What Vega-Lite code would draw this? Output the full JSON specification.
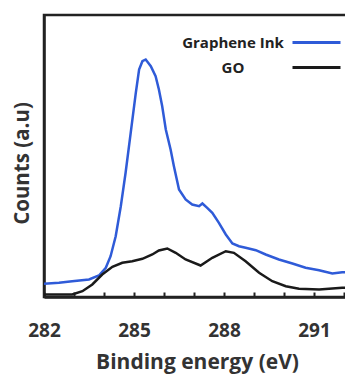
{
  "$schema": "https://vega.github.io/schema/vega-lite/v6.json",
  "autosize": "none",
  "padding": {"left": 44, "top": 15, "right": 0, "bottom": 79},
  "width": 306,
  "height": 282,
  "background": "white",
  "config": {
    "view": {"stroke": "#222", "strokeWidth": 2.5},
    "font": "Open Sans",
    "axis": {"grid": false}
  },
  "data": {
    "values": [
      {"E": 282.0, "v": 13.2, "s": "Graphene Ink"},
      {"E": 282.5, "v": 14.2, "s": "Graphene Ink"},
      {"E": 282.94, "v": 15.8, "s": "Graphene Ink"},
      {"E": 283.5, "v": 17.5, "s": "Graphene Ink"},
      {"E": 283.83, "v": 21.5, "s": "Graphene Ink"},
      {"E": 284.06, "v": 29.2, "s": "Graphene Ink"},
      {"E": 284.22, "v": 40.8, "s": "Graphene Ink"},
      {"E": 284.39, "v": 60.8, "s": "Graphene Ink"},
      {"E": 284.56, "v": 90.8, "s": "Graphene Ink"},
      {"E": 284.72, "v": 124.2, "s": "Graphene Ink"},
      {"E": 284.89, "v": 164.2, "s": "Graphene Ink"},
      {"E": 285.06, "v": 204.2, "s": "Graphene Ink"},
      {"E": 285.17, "v": 227.5, "s": "Graphene Ink"},
      {"E": 285.28, "v": 235.8, "s": "Graphene Ink"},
      {"E": 285.39, "v": 237.5, "s": "Graphene Ink"},
      {"E": 285.56, "v": 230.8, "s": "Graphene Ink"},
      {"E": 285.72, "v": 220.8, "s": "Graphene Ink"},
      {"E": 285.83, "v": 207.5, "s": "Graphene Ink"},
      {"E": 285.94, "v": 190.8, "s": "Graphene Ink"},
      {"E": 286.06, "v": 167.5, "s": "Graphene Ink"},
      {"E": 286.22, "v": 147.5, "s": "Graphene Ink"},
      {"E": 286.33, "v": 130.8, "s": "Graphene Ink"},
      {"E": 286.5, "v": 107.5, "s": "Graphene Ink"},
      {"E": 286.72, "v": 97.5, "s": "Graphene Ink"},
      {"E": 286.94, "v": 92.5, "s": "Graphene Ink"},
      {"E": 287.17, "v": 90.8, "s": "Graphene Ink"},
      {"E": 287.28, "v": 93.5, "s": "Graphene Ink"},
      {"E": 287.44, "v": 89.2, "s": "Graphene Ink"},
      {"E": 287.61, "v": 84.2, "s": "Graphene Ink"},
      {"E": 287.83, "v": 74.2, "s": "Graphene Ink"},
      {"E": 288.06, "v": 62.5, "s": "Graphene Ink"},
      {"E": 288.28, "v": 53.5, "s": "Graphene Ink"},
      {"E": 288.5, "v": 50.8, "s": "Graphene Ink"},
      {"E": 288.72, "v": 49.2, "s": "Graphene Ink"},
      {"E": 289.06, "v": 46.8, "s": "Graphene Ink"},
      {"E": 289.39, "v": 42.5, "s": "Graphene Ink"},
      {"E": 289.83, "v": 37.5, "s": "Graphene Ink"},
      {"E": 290.28, "v": 33.5, "s": "Graphene Ink"},
      {"E": 290.72, "v": 29.2, "s": "Graphene Ink"},
      {"E": 291.17, "v": 26.8, "s": "Graphene Ink"},
      {"E": 291.61, "v": 23.5, "s": "Graphene Ink"},
      {"E": 291.94, "v": 24.8, "s": "Graphene Ink"},
      {"E": 292.2, "v": 25.0, "s": "Graphene Ink"},
      {"E": 282.0, "v": 2.5, "s": "GO"},
      {"E": 282.94, "v": 2.5, "s": "GO"},
      {"E": 283.28, "v": 5.8, "s": "GO"},
      {"E": 283.61, "v": 12.5, "s": "GO"},
      {"E": 283.94, "v": 22.5, "s": "GO"},
      {"E": 284.28, "v": 30.2, "s": "GO"},
      {"E": 284.61, "v": 34.2, "s": "GO"},
      {"E": 284.94, "v": 35.8, "s": "GO"},
      {"E": 285.28, "v": 38.2, "s": "GO"},
      {"E": 285.61, "v": 42.5, "s": "GO"},
      {"E": 285.83, "v": 46.5, "s": "GO"},
      {"E": 286.11, "v": 48.5, "s": "GO"},
      {"E": 286.39, "v": 44.2, "s": "GO"},
      {"E": 286.72, "v": 37.5, "s": "GO"},
      {"E": 287.22, "v": 31.5, "s": "GO"},
      {"E": 287.61, "v": 39.2, "s": "GO"},
      {"E": 288.06, "v": 45.8, "s": "GO"},
      {"E": 288.33, "v": 44.2, "s": "GO"},
      {"E": 288.72, "v": 35.8, "s": "GO"},
      {"E": 289.17, "v": 24.2, "s": "GO"},
      {"E": 289.61, "v": 15.8, "s": "GO"},
      {"E": 290.06, "v": 10.8, "s": "GO"},
      {"E": 290.5, "v": 8.2, "s": "GO"},
      {"E": 291.17, "v": 7.5, "s": "GO"},
      {"E": 291.94, "v": 9.2, "s": "GO"},
      {"E": 292.2, "v": 9.5, "s": "GO"}
    ]
  },
  "mark": {"type": "line", "strokeWidth": 2.5, "clip": true},
  "encoding": {
    "x": {
      "field": "E", "type": "quantitative",
      "scale": {"domain": [282, 292.2], "nice": false, "zero": false},
      "axis": {
        "title": "Binding energy (eV)",
        "values": [282, 283, 284, 285, 286, 287, 288, 289, 290, 291, 292],
        "labelExpr": "(datum.value - 282) % 3 == 0 ? datum.label : ''",
        "labelFont": "Open Sans", "labelFontWeight": "bold", "labelFontSize": 19, "labelColor": "#333",
        "labelPadding": 29, "labelFlush": false,
        "tickSize": -5, "tickWidth": 2, "tickColor": "#222",
        "domainColor": "#222", "domainWidth": 2.5,
        "titleFont": "Open Sans", "titleFontWeight": "bold", "titleFontSize": 21, "titleColor": "#333",
        "titlePadding": 11
      }
    },
    "y": {
      "field": "v", "type": "quantitative",
      "scale": {"domain": [0, 282], "nice": false},
      "axis": {
        "title": "Counts (a.u)", "labels": false, "ticks": false,
        "domainColor": "#222", "domainWidth": 2.5,
        "titleFont": "Open Sans", "titleFontWeight": "bold", "titleFontSize": 20.5, "titleColor": "#333",
        "titlePadding": 12, "titleY": 148
      }
    },
    "color": {
      "field": "s", "type": "nominal",
      "scale": {"domain": ["Graphene Ink", "GO"], "range": ["#2f5bd8", "#1a1a1a"]},
      "legend": {
        "title": null, "orient": "none", "legendX": 265, "legendY": 20,
        "direction": "vertical", "rowPadding": 9,
        "symbolType": "M-4,0L4,0", "symbolSize": 144, "symbolStrokeWidth": 3,
        "labelAlign": "center", "labelOffset": -91,
        "labelFont": "Open Sans", "labelFontWeight": "bold", "labelFontSize": 15, "labelColor": "#222"
      }
    }
  }
}
